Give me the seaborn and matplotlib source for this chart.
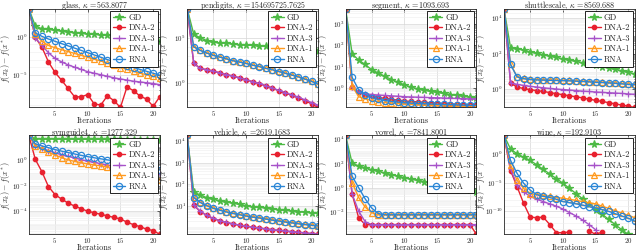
import numpy as np
import pandas as pd
import seaborn as sns
import matplotlib.pyplot as plt
from matplotlib.ticker import NullFormatter

# estilo tipo MATLAB
sns.set_theme(style="whitegrid")
plt.rcParams['font.family'] = ['cmr10', 'DejaVu Serif']
plt.rcParams['mathtext.fontset'] = 'cm'
plt.rcParams['axes.formatter.use_mathtext'] = True
plt.rcParams['axes.unicode_minus'] = False

nan = np.nan
iters = list(range(1, 22))
methods = ["GD", "DNA-2", "DNA-3", "DNA-1", "RNA"]

colors = {
    "GD": "#4DBA45",
    "DNA-2": "#E8202E",
    "DNA-3": "#A752C9",
    "DNA-1": "#FF9A1F",
    "RNA": "#2B86D6",
}
markers = {"GD": "*", "DNA-2": "o", "DNA-3": "+", "DNA-1": "^", "RNA": "o"}
msizes = {"GD": 5.5, "DNA-2": 3.2, "DNA-3": 5, "DNA-1": 4.5, "RNA": 4.5}
open_marker = {"GD": False, "DNA-2": False, "DNA-3": False, "DNA-1": True, "RNA": True}

# log10 de f(x_k) - f(x*)
glass = {
    "GD": [3.7, 1.4, 1.05, 0.95, 0.85, 0.75, 0.65, 0.55, 0.45, 0.35, 0.3, 0.25, 0.2, 0.1, 0.05, -0.05, -0.15, -0.25, -0.35, -0.45, -0.6],
    "DNA-2": [3.7, -0.1, -1.37, -3.3, -4.7, -5.7, -6.8, -7.9, -7.9, -7.6, -8.85, -8.97, -7.78, -8.4, -9.3, -6.6, -7.1, -7.8, -8.2, -9.15, -7.9],
    "DNA-3": [3.7, -0.15, -1.15, -2.1, -2.85, -3.3, -3.7, -4.0, -4.3, -4.6, -4.8, -5.0, -5.2, -5.4, -5.55, -5.7, -5.85, -5.95, -6.05, -6.15, -6.3],
    "DNA-1": [3.7, 0.3, -0.6, -1.15, -1.45, -1.7, -1.95, -2.2, -2.45, -2.7, -2.95, -3.2, -3.45, -3.75, -4.05, -4.3, -4.55, -4.8, -5.0, -5.2, -5.4],
    "RNA": [3.7, 0.5, 0.05, -0.3, -0.6, -0.9, -1.2, -1.5, -1.8, -2.1, -2.4, -2.7, -3.0, -3.3, -3.55, -3.8, -4.05, -4.3, -4.55, -4.8, -5.05],
}
pendigits = {
    "GD": [8.26, 5.4, 5.0, 4.7, 4.5, 4.45, 4.4, 4.3, 4.25, 4.2, 4.15, 4.1, 4.05, 4.0, 3.95, 3.9, 3.85, 3.8, 3.7, 3.65, 3.5],
    "DNA-2": [8.26, 2.15, 1.6, 1.45, 1.3, 1.1, 0.9, 0.75, 0.55, 0.35, 0.1, -0.1, -0.35, -0.6, -0.9, -1.15, -1.4, -1.7, -2.0, -2.35, -2.75],
    "DNA-3": [8.26, 2.15, 1.6, 1.45, 1.3, 1.1, 0.9, 0.75, 0.55, 0.35, 0.12, -0.08, -0.32, -0.57, -0.85, -1.1, -1.35, -1.6, -1.9, -2.2, -2.5],
    "DNA-1": [8.26, 4.0, 3.62, 3.32, 3.07, 2.87, 2.67, 2.47, 2.32, 2.17, 1.97, 1.82, 1.62, 1.47, 1.27, 1.07, 0.87, 0.67, 0.43, 0.2, -0.1],
    "RNA": [8.26, 4.0, 3.6, 3.3, 3.05, 2.85, 2.65, 2.45, 2.3, 2.15, 1.95, 1.8, 1.6, 1.45, 1.25, 1.05, 0.85, 0.65, 0.4, 0.15, -0.15],
}
segment = {
    "GD": [3.7, 1.6, 1.3, 1.1, 0.85, 0.7, 0.55, 0.4, 0.28, 0.15, 0.05, -0.03, -0.1, -0.15, -0.2, -0.25, -0.3, -0.34, -0.38, -0.42, -0.45],
    "DNA-2": [3.7, 0.04, -0.2, -0.3, -0.38, -0.43, -0.48, -0.52, -0.56, -0.6, -0.62, -0.64, -0.66, -0.68, -0.7, -0.72, -0.74, -0.75, -0.77, -0.78, -0.8],
    "DNA-3": [3.7, 0.04, -0.2, -0.26, -0.3, -0.32, -0.34, -0.36, -0.38, -0.4, -0.41, -0.42, -0.43, -0.44, -0.45, -0.46, -0.47, -0.48, -0.49, -0.5, -0.5],
    "DNA-1": [3.7, 0.1, -0.4, -0.5, -0.58, -0.63, -0.67, -0.7, -0.72, -0.74, -0.76, -0.78, -0.8, -0.81, -0.82, -0.83, -0.84, -0.85, -0.86, -0.88, -0.9],
    "RNA": [3.7, 0.5, -0.08, -0.3, -0.45, -0.52, -0.58, -0.62, -0.65, -0.68, -0.7, -0.72, -0.73, -0.74, -0.75, -0.76, -0.77, -0.78, -0.79, -0.8, -0.8],
}
shuttlescale = {
    "GD": [4.55, 2.35, 2.3, 2.2, 2.1, 2.02, 1.95, 1.87, 1.8, 1.72, 1.65, 1.57, 1.5, 1.42, 1.35, 1.27, 1.2, 1.12, 1.05, 0.95, 0.87],
    "DNA-2": [4.55, 0.37, 0.12, 0.05, -0.02, -0.07, -0.12, -0.18, -0.24, -0.3, -0.36, -0.42, -0.48, -0.55, -0.62, -0.68, -0.75, -0.82, -0.88, -0.95, -1.02],
    "DNA-3": [4.55, 0.37, 0.28, 0.22, 0.17, 0.13, 0.09, 0.05, 0.02, -0.01, -0.04, -0.07, -0.1, -0.12, -0.15, -0.17, -0.19, -0.21, -0.23, -0.26, -0.28],
    "DNA-1": [4.55, 1.42, 0.72, 0.62, 0.57, 0.55, 0.54, 0.53, 0.52, 0.51, 0.5, 0.48, 0.46, 0.44, 0.42, 0.4, 0.38, 0.36, 0.33, 0.3, 0.28],
    "RNA": [4.55, 1.4, 0.7, 0.6, 0.55, 0.53, 0.52, 0.51, 0.5, 0.49, 0.48, 0.46, 0.44, 0.42, 0.4, 0.38, 0.36, 0.34, 0.31, 0.28, 0.26],
}
svmguide4 = {
    "GD": [1.9, 1.64, 1.64, 1.63, 1.63, 1.62, 1.62, 1.61, 1.61, 1.6, 1.6, 1.6, 1.59, 1.59, 1.59, 1.58, 1.58, 1.58, 1.57, 1.57, 1.57],
    "DNA-2": [1.9, 0.03, -0.92, -2.08, -2.7, -3.05, -3.36, -3.6, -3.8, -4.0, -4.12, -4.24, -4.36, -4.48, -4.6, -4.85, -5.05, -5.2, -5.4, -5.5, -5.8],
    "DNA-3": [1.9, 1.1, 0.9, 0.72, 0.55, 0.4, 0.27, 0.15, 0.02, -0.1, -0.2, -0.3, -0.4, -0.5, -0.6, -0.7, -0.78, -0.86, -0.94, -1.02, -1.1],
    "DNA-1": [1.9, 1.1, 0.85, 0.6, 0.38, 0.18, 0.0, -0.12, -0.22, -0.32, -0.4, -0.47, -0.55, -0.62, -0.7, -0.78, -0.86, -0.95, -1.05, -1.15, -1.55],
    "RNA": [1.9, 1.25, 1.08, 0.95, 0.8, 0.68, 0.57, 0.46, 0.35, 0.25, 0.16, 0.08, 0.0, -0.08, -0.15, -0.22, -0.3, -0.4, -0.5, -0.6, -0.8],
}
vehicle = {
    "GD": [4.27, 1.65, 1.49, 1.38, 1.3, 1.24, 1.18, 1.12, 1.06, 1.0, 0.96, 0.93, 0.9, 0.86, 0.82, 0.79, 0.76, 0.73, 0.7, 0.67, 0.65],
    "DNA-2": [4.27, 1.03, 0.73, 0.55, 0.4, 0.3, 0.22, 0.15, 0.09, 0.04, 0.0, -0.04, -0.08, -0.12, -0.15, -0.18, -0.21, -0.24, -0.27, -0.3, -0.33],
    "DNA-3": [4.27, 1.04, 0.74, 0.56, 0.41, 0.31, 0.23, 0.16, 0.1, 0.05, 0.01, -0.03, -0.07, -0.11, -0.14, -0.17, -0.2, -0.23, -0.26, -0.29, -0.32],
    "DNA-1": [4.27, 1.4, 1.17, 1.02, 0.9, 0.81, 0.73, 0.66, 0.6, 0.54, 0.49, 0.45, 0.4, 0.35, 0.31, 0.26, 0.22, 0.18, 0.14, 0.11, 0.08],
    "RNA": [4.27, 1.38, 1.15, 1.0, 0.88, 0.79, 0.71, 0.64, 0.58, 0.52, 0.47, 0.43, 0.38, 0.33, 0.29, 0.24, 0.2, 0.16, 0.12, 0.09, 0.06],
}
vowel = {
    "GD": [4.3, 2.03, 1.8, 1.65, 1.5, 1.37, 1.24, 1.1, 0.97, 0.83, 0.72, 0.62, 0.52, 0.42, 0.3, 0.2, 0.1, 0.0, -0.1, -0.2, -0.3],
    "DNA-2": [4.3, -0.5, -2.45, -3.0, -3.0, -3.0, -3.0, -3.0, -3.0, -3.0, -3.0, -3.0, -3.0, -3.0, -3.0, -3.0, -3.0, -3.0, -3.0, -3.0, -3.8],
    "DNA-3": [4.3, -0.5, -1.9, -2.77, -3.0, -3.0, -3.0, -3.0, -3.0, -3.0, -3.0, -3.0, -3.0, -3.0, -3.0, -3.0, -3.0, -3.0, -3.0, -3.0, -3.0],
    "DNA-1": [4.3, 0.43, -0.78, -1.57, -2.03, -2.2, -2.2, -2.2, -2.2, -2.2, -2.2, -2.2, -2.2, -2.2, -2.2, -2.2, -2.2, -2.2, -2.2, -2.2, -2.2],
    "RNA": [4.3, 0.96, 0.02, -0.9, -1.65, -2.1, -2.2, -2.2, -2.2, -2.2, -2.2, -2.2, -2.2, -2.2, -2.2, -2.2, -2.2, -2.2, -2.2, -2.2, -2.2],
}
wine = {
    "GD": [3.2, 0.86, 0.0, -0.57, -1.14, -1.9, -2.7, -3.5, -4.3, -5.1, -6.0, -6.9, -7.8, -8.8, -9.7, -10.5, -11.4, -12.3, -13.2, -14.0, nan],
    "DNA-2": [3.2, -2.9, -5.7, -8.6, -11.0, -11.1, -11.0, -12.3, -13.7, -13.7, -13.6, nan, nan, -13.4, -14.0, -13.6, nan, nan, nan, nan, nan],
    "DNA-3": [3.2, -2.6, -5.4, -6.6, -7.4, -7.9, -8.3, -8.7, -9.1, -9.6, -10.2, -10.8, -11.5, -12.3, -13.2, nan, nan, nan, nan, nan, nan],
    "DNA-1": [3.2, -1.9, -4.6, -6.0, -6.9, -7.1, -7.2, -7.4, -7.6, -7.7, -7.9, -8.1, -8.3, -8.5, -8.7, -9.1, -9.5, -9.9, -10.3, -10.7, -11.1],
    "RNA": [3.2, -1.14, -3.4, -5.1, -6.3, -7.1, -7.4, -7.6, -7.9, -8.3, -8.5, -8.7, -8.9, -9.2, -9.4, -9.7, -10.0, -10.4, -10.8, -11.2, -11.7],
}

datasets = [
    ("glass", "563.8077", glass, [-5, 0]),
    ("pendigits", "154695725.7625", pendigits, [0, 5]),
    ("segment", "1093.693", segment, [0, 1, 2, 3]),
    ("shuttlescale", "8569.688", shuttlescale, [0, 2, 4]),
    ("svmguide4", "1277.329", svmguide4, [-4, -2, 0]),
    ("vehicle", "2619.1683", vehicle, [1, 2, 3, 4]),
    ("vowel", "7841.8001", vowel, [-2, 0, 2, 4]),
    ("wine", "192.9103", wine, [-10, -5, 0]),
]

fig, axes = plt.subplots(2, 4, figsize=(6.4, 2.52), dpi=100)
fig.subplots_adjust(left=0.045, right=0.992, top=0.966, bottom=0.07,
                    wspace=0.21, hspace=0.283)

for ax, (name, kappa, logs, yexp) in zip(axes.flat, datasets):
    lo, hi = np.inf, -np.inf
    for m in methods:
        vals = np.array(logs[m], dtype=float)
        lo, hi = min(lo, np.nanmin(vals)), max(hi, np.nanmax(vals))
        df = pd.DataFrame({"it": iters, "gap": 10.0 ** vals, "seg": np.isnan(vals).cumsum()})
        df = df.dropna()
        sns.lineplot(data=df, x="it", y="gap", units="seg", estimator=None, ax=ax,
                     color=colors[m], marker=markers[m], markersize=msizes[m],
                     markerfacecolor="none" if open_marker[m] else colors[m],
                     markeredgecolor=colors[m], markeredgewidth=0.9,
                     linewidth=1.0, label=m)

    ax.set_yscale("log")
    ax.set_xlim(1, 21)
    ax.set_xticks([5, 10, 15, 20])
    ax.set_yticks([10.0 ** e for e in yexp])
    step = yexp[1] - yexp[0]
    subs = range(1, 10) if step <= 2 else [1]
    minor = [s * 10.0 ** d for d in range(int(np.floor(lo)) - 1, int(np.ceil(hi)) + 1) for s in subs]
    ax.set_yticks(minor, minor=True)
    ax.yaxis.set_minor_formatter(NullFormatter())
    ax.set_ylim(10.0 ** lo, 10.0 ** hi)

    ax.grid(True, which="major", color="#d6d6d6", linewidth=0.5)
    ax.grid(True, which="minor", axis="y", color="#eeeeee", linewidth=0.4)
    ax.tick_params(which="both", direction="in", length=2, width=0.5,
                   labelsize=5, pad=1.0, top=True, right=True)
    ax.tick_params(which="minor", length=1)
    for sp in ax.spines.values():
        sp.set_color("#262626")
        sp.set_linewidth(0.6)

    ax.set_title(f"{name}, $\\kappa$ ={kappa}", fontsize=5.8, pad=0.2)
    ax.set_xlabel("Iterations", fontsize=6)
    ax.xaxis.set_label_coords(0.5, -0.095)
    ax.set_ylabel(r"$f(x_k) - f(x^*)$", fontsize=5.8)
    ax.yaxis.set_label_coords(-0.13, 0.5)

    handles, labels = ax.get_legend_handles_labels()
    uniq = dict(zip(labels, handles))
    ax.legend([uniq[m] for m in methods], methods, loc="upper right", fontsize=6.2,
              frameon=True, fancybox=False, edgecolor="black", framealpha=1,
              borderpad=0.3, labelspacing=0.25, handlelength=1.5,
              handletextpad=0.35, borderaxespad=0.25).get_frame().set_linewidth(0.6)

fig.savefig("out.png", dpi=100)
